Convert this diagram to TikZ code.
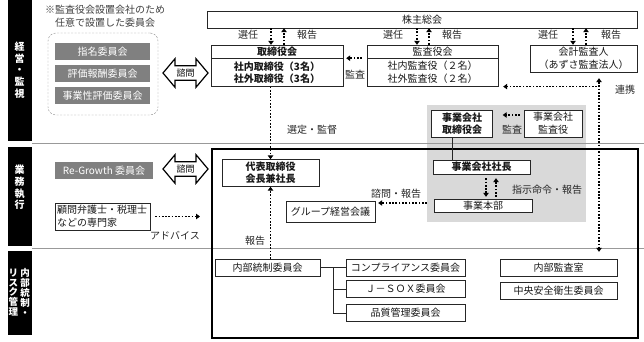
\documentclass[tikz,border=0pt]{standalone}
\usepackage{fontspec}
\setmainfont{Noto Sans CJK JP}
\usetikzlibrary{arrows.meta,positioning,shapes.arrows}

\tikzset{
  box/.style={draw=black!85, fill=white, inner sep=1pt, align=center, text=black!90},
  greybox/.style={fill=black!50, text=white, inner sep=1pt},
  dotarr/.style={line width=1.8pt, dash pattern=on 1.7pt off 1.6pt,
                 -{Triangle[length=4pt,width=5.5pt]}},
  consult/.style={double arrow, draw=black, line width=1.2pt, fill=white,
                  double arrow head extend=7pt, double arrow tip angle=100,
                  minimum height=45pt, inner xsep=1pt, inner ysep=2.5pt,
                  font=\fontsize{9}{10}\selectfont},
  lbl/.style={text=black!85, inner sep=0pt},
  sidebar/.style={fill=black, inner sep=0pt, minimum width=24pt},
  sidetext/.style={text=white, font=\bfseries\fontsize{10}{11.7}\selectfont,
                   align=center, inner sep=0pt}
}

\begin{document}
\begin{tikzpicture}[x=1pt, y=-1pt, font=\fontsize{10}{13}\selectfont]
  \useasboundingbox (0,0) rectangle (644,342);

  % side bars
  \node[sidebar, minimum height=141pt] (bar1) at (19.5,70.5) {};
  \node[sidebar, minimum height=99pt] (bar2) at (19.5,196.5) {};
  \node[sidebar, minimum height=84pt] (bar3) at (19.5,293) {};
  \node[sidetext] (side1) at (19.5,70) {経\\営\\・\\監\\視};
  \node[sidetext] (side2) at (19.5,187.5) {業\\務\\執\\行};
  \node[sidetext, font=\bfseries\fontsize{9.5}{9.9}\selectfont] (side3a) at (25,292.5) {内\\部\\統\\制\\・};
  \node[sidetext, font=\bfseries\fontsize{9.5}{9.9}\selectfont] (side3b) at (13.5,292.5) {リ\\ス\\ク\\管\\理};

  % group company area and frames
  \fill[black!15] (427,105) rectangle (586,222);
  \draw[black!40, line width=0.8pt] (32,143.5) -- (644,143.5);
  \draw[black!40, line width=0.8pt] (32,248.5) -- (644,248.5);
  \draw[line width=2.8pt] (212,149) rectangle (638,338);

  % management and supervision
  \node[lbl, align=center, text=black!75] (note) at (105,16) {※監査役会設置会社のため\\任意で設置した委員会};
  \node[draw=black!45, dash pattern=on 2pt off 1.5pt, rounded corners=8pt,
        minimum width=110pt, minimum height=82pt] (optbox) at (103,74) {};
  \node[greybox, minimum width=95pt, minimum height=17pt] (nom) at (102.5,51.5) {指名委員会};
  \node[greybox, minimum width=95pt, minimum height=17pt] (rem) at (102.5,73.5) {評価報酬委員会};
  \node[greybox, minimum width=95pt, minimum height=17pt] (biz) at (102.5,96) {事業性評価委員会};
  \node[consult] (ask1) at (185.5,73) {諮問};

  \node[box, minimum width=430pt, minimum height=17pt] (share) at (422,19.5) {株主総会};
  \node[box, minimum width=132pt, minimum height=13pt, font=\bfseries] (boardh) at (277,51.5) {取締役会};
  \node[box, minimum width=132pt, minimum height=28pt, font=\bfseries, below=0pt of boardh] (board)
    {社内取締役（3名）\\社外取締役（3名）};
  \node[box, minimum width=131pt, minimum height=13pt] (audith) at (432.5,51.5) {監査役会};
  \node[box, minimum width=131pt, minimum height=28pt, below=0pt of audith] (audit)
    {社内監査役（２名）\\社外監査役（２名）};
  \node[box, minimum width=107pt, minimum height=27pt] (acct) at (583.5,58.5) {会計監査人\\（あずさ監査法人）};

  \draw[dotarr] ([xshift=-6pt]boardh.north |- share.south) -- ([xshift=-6pt]boardh.north);
  \draw[dotarr] ([xshift=7pt]boardh.north) -- ([xshift=7pt]boardh.north |- share.south);
  \draw[dotarr] ([xshift=-15.5pt]audith.north |- share.south) -- ([xshift=-15.5pt]audith.north);
  \draw[dotarr] ([xshift=-3.5pt]audith.north) -- ([xshift=-3.5pt]audith.north |- share.south);
  \draw[dotarr] ([xshift=-10.5pt]acct.north |- share.south) -- ([xshift=-10.5pt]acct.north);
  \draw[dotarr] ([xshift=2.5pt]acct.north) -- ([xshift=2.5pt]acct.north |- share.south);
  \node[lbl] (sel1) at (248,35) {選任};
  \node[lbl] (rep1) at (307,35) {報告};
  \node[lbl] (sel2) at (393,35) {選任};
  \node[lbl] (rep2) at (452,35) {報告};
  \node[lbl] (sel3) at (548,35) {選任};
  \node[lbl] (rep3) at (611,35) {報告};

  \draw[dotarr, shorten <=5pt, shorten >=3pt] (audith.south west) -- (boardh.south east);
  \node[lbl] (aud1) at (355,75) {監査};

  % group companies
  \node[box, minimum width=61pt, minimum height=27pt, font=\bfseries] (subboard) at (462,123.5) {事業会社\\取締役会};
  \node[box, minimum width=58pt, minimum height=27pt] (subaud) at (553,123.5) {事業会社\\監査役};
  \draw[dotarr, shorten <=4pt, shorten >=10pt] ([yshift=8.5pt]subaud.west) -- ([yshift=8.5pt]subboard.east);
  \node[lbl] (aud2) at (512,130) {監査};
  \node[box, minimum width=97pt, minimum height=14pt, font=\bfseries] (subpres) at (481.5,167) {事業会社社長};
  \node[box, minimum width=98pt, minimum height=13pt] (div) at (483,205.5) {事業本部};
  \draw[black!85] ([xshift=-10pt]subboard.south) -- ([xshift=-10pt]subboard.south |- subpres.north);
  \draw[dotarr, shorten <=4pt, shorten >=2pt] ([xshift=4.5pt]subpres.south) -- ([xshift=4.5pt]subpres.south |- div.north);
  \draw[dotarr, shorten <=2pt, shorten >=4pt] ([xshift=14.5pt]subpres.south |- div.north) -- ([xshift=14.5pt]subpres.south);
  \node[lbl] (order) at (547,190) {指示命令・報告};

  % business execution
  \node[greybox, minimum width=98pt, minimum height=17pt] (regrowth) at (104,170.5) {Re-Growth 委員会};
  \node[consult] (ask2) at (185.5,169) {諮問};
  \node[box, minimum width=95pt, minimum height=27pt, align=left, text width=91pt] (expert) at (102.5,216.5)
    {顧問弁護士・税理士\\などの専門家};
  \coordinate (advend) at (200,216.5);
  \draw[dotarr, shorten <=5pt] (expert.east) -- (advend);
  \node[lbl] (advice) at (175,236) {アドバイス};

  \node[box, minimum width=97pt, minimum height=27pt, font=\bfseries] (ceo) at (270.5,173) {代表取締役\\会長兼社長};
  \node[box, minimum width=89pt, minimum height=21pt] (group) at (330.5,211.5) {グループ経営会議};
  \draw[dotarr] (ceo.north |- board.south) -- (ceo.north);
  \node[lbl] (appoint) at (312,130) {選定・監督};
  \draw[dotarr, shorten <=7pt, shorten >=3pt] ([yshift=2.5pt]div.west) -- ([yshift=2.5pt]div.west -| group.east);
  \node[lbl] (askrep) at (396,194) {諮問・報告};

  % internal control and risk management
  \node[box, minimum width=105pt, minimum height=17pt] (ic) at (267.5,267.5) {内部統制委員会};
  \node[box, minimum width=119pt, minimum height=17pt] (comp) at (405.5,267.5) {コンプライアンス委員会};
  \node[box, minimum width=119pt, minimum height=17pt] (jsox) at (405.5,289) {Ｊ－ＳＯＸ委員会};
  \node[box, minimum width=119pt, minimum height=17pt] (qual) at (405.5,313) {品質管理委員会};
  \node[box, minimum width=117pt, minimum height=17pt] (ia) at (558.5,267.5) {内部監査室};
  \node[box, minimum width=117pt, minimum height=17pt] (safety) at (558.5,290.5) {中央安全衛生委員会};
  \draw[black!85] (ic.east) -- (comp.west);
  \draw[black!85] ([xshift=13pt]ic.east) |- (jsox.west);
  \draw[black!85] ([xshift=13pt]ic.east) |- (qual.west);
  \draw[dotarr] (ceo.south |- ic.north) -- (ceo.south);
  \node[lbl] (rep4) at (255,241) {報告};

  % link between auditors
  \draw[dotarr, {Triangle[length=4pt,width=5.5pt]}-{Triangle[length=4pt,width=5.5pt]},
        shorten <=6pt, shorten >=7pt] ([xshift=15.5pt]acct.south) -- ([xshift=15.5pt]acct.south |- ia.north);
  \draw[dotarr, shorten <=2pt, shorten >=5pt] ([xshift=15.5pt]acct.south |- audit.south east) -- (audit.south east);
  \node[lbl] (coop) at (625,90) {連携};
\end{tikzpicture}
\end{document}
